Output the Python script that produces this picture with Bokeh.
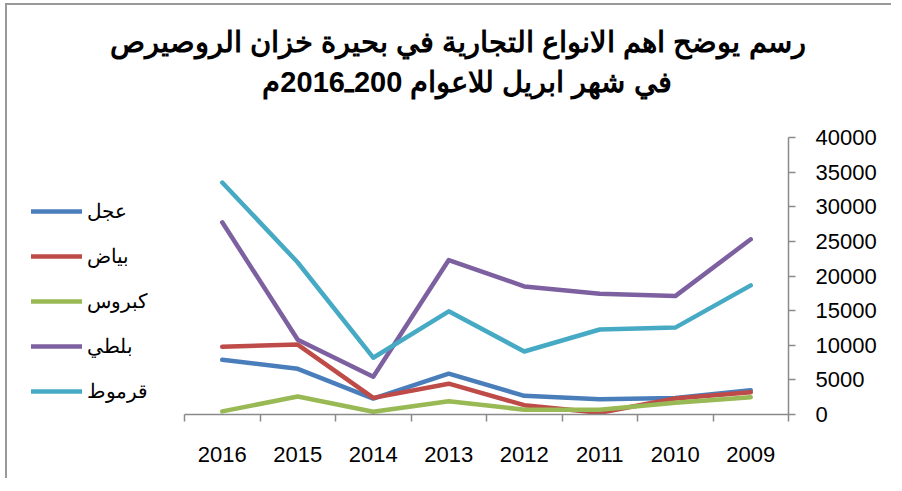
from bokeh.plotting import figure
from bokeh.models import (Range1d, FixedTicker, Legend, LegendItem, Title)
from bokeh.embed import file_html
from bokeh.resources import INLINE

# ---- data ----
years = ["2016", "2015", "2014", "2013", "2012", "2011", "2010", "2009"]
series_names = ["عجل", "بياض", "كبروس", "بلطي", "قرموط"]
ajal = [7900, 6600, 2300, 5900, 2700, 2200, 2400, 3500]
bayad = [9800, 10100, 2400, 4450, 1350, 250, 2300, 3200]
kabrus = [450, 2600, 400, 1900, 700, 700, 1700, 2500]
bolti = [27750, 10800, 5450, 22300, 18500, 17450, 17100, 25300]
garmut = [33500, 21950, 8200, 14900, 9100, 12270, 12550, 18650]
y_ticks = [0, 5000, 10000, 15000, 20000, 25000, 30000, 35000, 40000]
title_line1 = "رسم يوضح اهم الانواع التجارية في بحيرة خزان الروصيرص"
title_line2 = "في شهر ابريل للاعوام 200ـ2016م"

colors = ["#4a7ebb", "#be4b48", "#98b954", "#7d60a0", "#46aac5"]
all_series = [ajal, bayad, kabrus, bolti, garmut]

FONT = "Liberation Sans"
GRAY = "#8a8a8a"

# layout constants (pixels)
LEGEND_AREA = 177      # room left of the category axis for the legend
CAT_W = 75.5           # pixel width of one category slot

xs = list(range(len(years)))
x_lo = xs[0] - 0.5
x_hi = xs[-1] + 0.5

p = figure(width=886, height=475, output_backend="svg", toolbar_location=None,
           x_range=Range1d(x_lo - LEGEND_AREA / CAT_W, x_hi), y_range=Range1d(0, 40000),
           y_axis_location="right",
           min_border_left=0, min_border_right=105,
           min_border_top=132, min_border_bottom=66)
p.outline_line_color = None
p.grid.visible = False
p.background_fill_color = "white"
p.border_fill_color = "white"
p.styles = {"border-left": "2px solid #999999", "border-top": "2px solid #999999",
            "margin-left": "5px", "margin-top": "3px"}

items = []
for name, vals, c in zip(series_names, all_series, colors):
    r = p.line(xs, vals, line_color=c, line_width=4.5, line_join="round", line_cap="round")
    items.append(LegendItem(label=name, renderers=[r]))

# x axis (restricted to the category slots)
xa = p.xaxis[0]
xa.bounds = (x_lo, x_hi)
xa.ticker = FixedTicker(ticks=xs, minor_ticks=[i - 0.5 for i in range(len(years) + 1)])
xa.major_label_overrides = {i: y for i, y in enumerate(years)}
xa.major_tick_out = 0
xa.major_tick_in = 0
xa.minor_tick_out = 7
xa.minor_tick_in = 0
xa.minor_tick_line_color = GRAY
xa.minor_tick_line_width = 1.5
xa.axis_line_color = GRAY
xa.axis_line_width = 1.5
xa.major_label_text_font = FONT
xa.major_label_text_font_size = "22px"
xa.major_label_text_color = "black"
xa.major_label_standoff = 25

# y axis
ya = p.yaxis[0]
ya.ticker = FixedTicker(ticks=y_ticks)
ya.minor_tick_line_color = None
ya.major_tick_out = 7
ya.major_tick_in = 0
ya.major_tick_line_color = GRAY
ya.major_tick_line_width = 1.5
ya.axis_line_color = GRAY
ya.axis_line_width = 1.5
ya.major_label_text_font = FONT
ya.major_label_text_font_size = "22px"
ya.major_label_text_color = "black"
ya.major_label_standoff = 20

# legend inside the (widened) frame, left of the category slots
legend = Legend(items=items, location=(24, 11))
legend.label_text_font = FONT
legend.label_text_font_size = "20px"
legend.label_text_color = "black"
legend.glyph_width = 51
legend.glyph_height = 24
legend.label_height = 24
legend.spacing = 21
legend.padding = 0
legend.margin = 0
legend.label_standoff = 5
legend.border_line_color = None
legend.background_fill_alpha = 0
p.add_layout(legend)

# title lines (added nearest-first)
spacer = Title(text=" ", text_font_size="1px", standoff=34)
t2 = Title(text=title_line2, align="right", offset=117, standoff=6,
           text_font=FONT, text_font_size="29px", text_font_style="bold", text_color="black")
t1 = Title(text=title_line1, align="right", offset=-17, standoff=6,
           text_font=FONT, text_font_size="29px", text_font_style="bold", text_color="black")
p.add_layout(spacer, "above")
p.add_layout(t2, "above")
p.add_layout(t1, "above")

open("out.html", "w").write(file_html(p, INLINE))
